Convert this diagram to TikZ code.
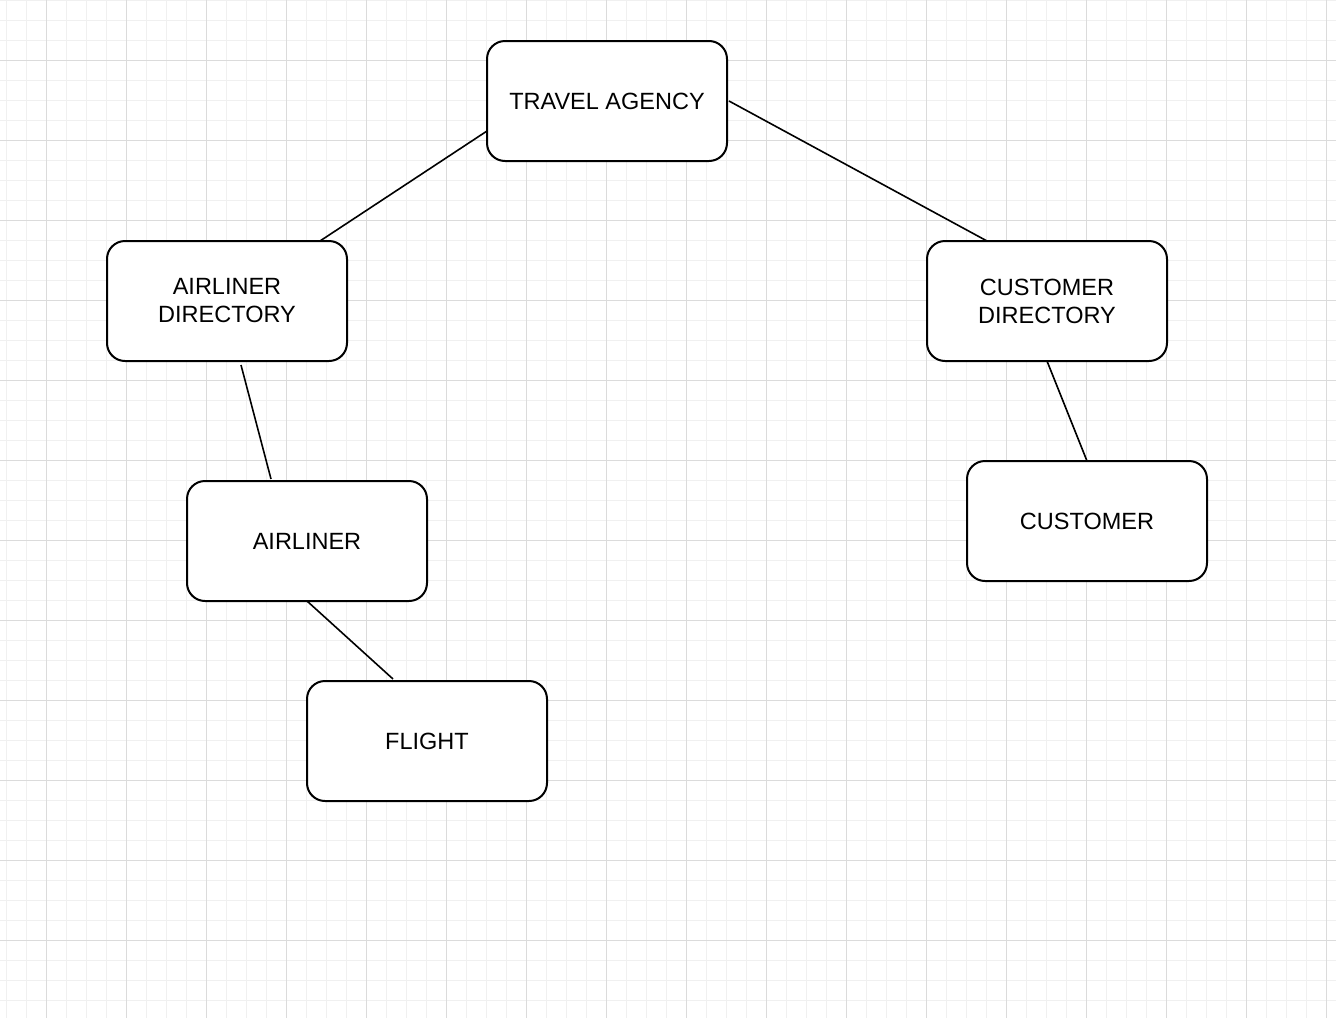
\documentclass[tikz,border=0pt]{standalone}
\usepackage{fontspec}
\setmainfont{Liberation Sans}
\begin{document}
\begin{tikzpicture}[x=1pt,y=-1pt,
  box/.style={draw=black,line width=2pt,rounded corners=18pt,fill=white,
    minimum width=240pt,minimum height=120pt,inner sep=0pt,align=center,
    font=\fontsize{23.5}{28}\selectfont},
  edge/.style={draw=black,line width=1.6pt},
  minorgrid/.style={draw=black!6,line width=1pt},
  majorgrid/.style={draw=black!14,line width=1pt}]
\useasboundingbox (0,0) rectangle (1336,1018);
\fill[white] (0,0) rectangle (1336,1018);
\foreach \x in {6,26,...,1326} \draw[minorgrid] (\x,0) -- (\x,1018);
\foreach \y in {0,20,...,1010} \draw[minorgrid] (0,\y) -- (1336,\y);
\foreach \x in {46,126,...,1326} \draw[majorgrid] (\x,0) -- (\x,1018);
\foreach \y in {60,140,...,940} \draw[majorgrid] (0,\y) -- (1336,\y);

\node[box] (ta) at (607,101) {TRAVEL AGENCY};
\node[box] (ad) at (227,301) {AIRLINER\\DIRECTORY};
\node[box] (cd) at (1047,301) {CUSTOMER\\DIRECTORY};
\node[box] (al) at (307,541) {AIRLINER};
\node[box] (cu) at (1087,521) {CUSTOMER};
\node[box] (fl) at (427,741) {FLIGHT};

\coordinate (ta1) at (487,131);
\coordinate (ad1) at (320,241);
\coordinate (ta2) at (729,101);
\coordinate (cd1) at (987,241);
\coordinate (ad2) at (241,365);
\coordinate (al1) at (271,479);
\coordinate (cd2) at (1047,361);
\coordinate (cu1) at (1087,461);
\coordinate (al2) at (307,601);
\coordinate (fl1) at (393,679);

\draw[edge] (ta1) -- (ad1);
\draw[edge] (ta2) -- (cd1);
\draw[edge] (ad2) -- (al1);
\draw[edge] (cd2) -- (cu1);
\draw[edge] (al2) -- (fl1);
\end{tikzpicture}
\end{document}
